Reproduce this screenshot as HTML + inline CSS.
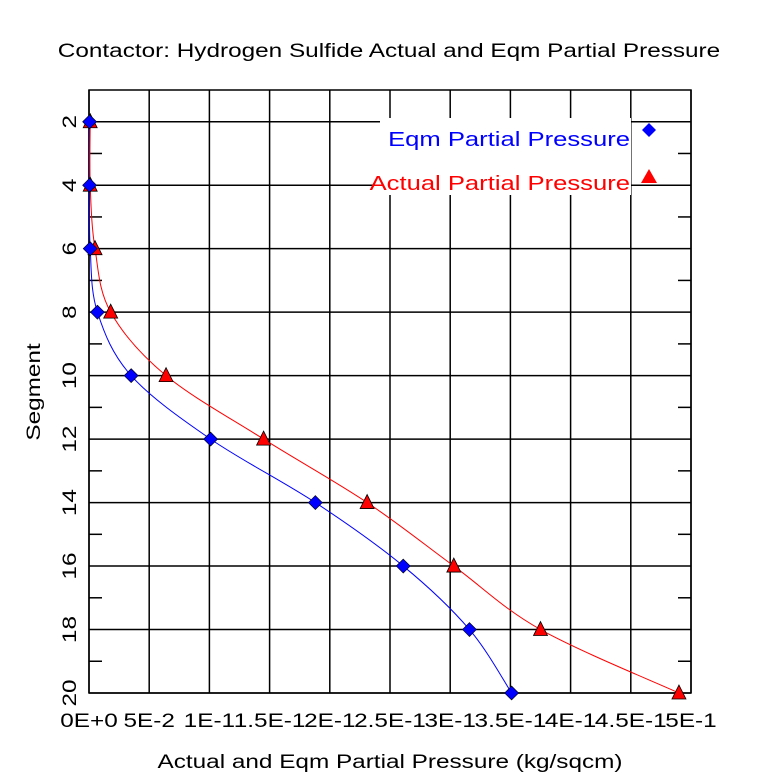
<!DOCTYPE html>
<html><head><meta charset="utf-8"><style>body{margin:0;background:#fff}svg{display:block;font-family:"Liberation Sans",sans-serif}</style></head>
<body>
<svg id="chart" width="781" height="782" viewBox="0 0 781 782" xmlns="http://www.w3.org/2000/svg">
<text class="wide" x="389" y="57" font-size="19" text-anchor="middle">Contactor: Hydrogen Sulfide Actual and Eqm Partial Pressure</text>
<g id="grid"></g>
<g id="series"></g>
<text class="wide" x="390" y="768" font-size="19" text-anchor="middle">Actual and Eqm Partial Pressure (kg/sqcm)</text>
<text class="wide" transform="translate(40,392) rotate(-90)" font-size="19" text-anchor="middle">Segment</text>
<g>
<rect x="380" y="118" width="251" height="77" fill="#fff"/>
<text class="wide" x="630" y="146" font-size="20" fill="#0000ff" text-anchor="end">Eqm Partial Pressure</text>
<path d="M649 123 L656 130 L649 137 L642 130 Z" fill="#0000ff"/>
<text class="wide" x="630" y="190" font-size="20" fill="#ff0000" text-anchor="end">Actual Partial Pressure</text>
<path d="M649 169 L657 183 L641 183 Z" fill="#ff0000"/>
</g>
</svg>
<script>
const segments=[2,4,6,8,10,12,14,16,18,20];
const eqmValues=[0.0005,0.0005,0.001,0.007,0.035,0.101,0.188,0.261,0.316,0.351];
const actualValues=[0.001,0.001,0.005,0.018,0.064,0.145,0.231,0.303,0.375,0.49];
const xTicks=[0,0.05,0.1,0.15,0.2,0.25,0.3,0.35,0.4,0.45,0.5];
const xTickLabels=["0E+0","5E-2","1E-1","1.5E-1","2E-1","2.5E-1","3E-1","3.5E-1","4E-1","4.5E-1","5E-1"];
const yTicks=[2,4,6,8,10,12,14,16,18,20];
const L=89,R=691,T=90,B=693,yMin=1,yMax=20,xMax=0.5;
const X=v=>L+(v/xMax)*(R-L);
const Y=s=>T+(s-yMin)/(yMax-yMin)*(B-T);
const NS="http://www.w3.org/2000/svg";
function mk(tag,attrs,parent){const e=document.createElementNS(NS,tag);for(const k in attrs)e.setAttribute(k,attrs[k]);parent.appendChild(e);return e;}
const g=document.getElementById('grid');
xTicks.forEach((v,i)=>{
 const l=mk('line',{x1:X(v),x2:X(v),y1:T,y2:B,stroke:'#000','stroke-width':1.5},g);
 
 
 const t=mk('text',{x:X(v),y:727,'font-size':19,'text-anchor':'middle','class':'wide'},g);
 t.textContent=xTickLabels[i];
 
 
});
yTicks.forEach(s=>{
 const l=mk('line',{x1:L,x2:R,y1:Y(s),y2:Y(s),stroke:'#000','stroke-width':1.5},g);
 
 
 const t=mk('text',{transform:`translate(76,${Y(s)}) rotate(-90)`,'font-size':19,'text-anchor':'middle','class':'wide'},g);
 t.textContent=s;
 
 
});
for(let s=3;s<=19;s+=2){
 const a=mk('line',{x1:L,x2:L+13,y1:Y(s),y2:Y(s),stroke:'#000','stroke-width':1.5},g);
 
 
 const b=mk('line',{x1:R-13,x2:R,y1:Y(s),y2:Y(s),stroke:'#000','stroke-width':1.5},g);
 
 
}
const frame=mk('rect',{x:L,y:T,width:R-L,height:B-T,fill:'none',stroke:'#000','stroke-width':1.5},g);


function smooth(pts){let d=`M${pts[0][0]} ${pts[0][1]}`;for(let i=0;i<pts.length-1;i++){const p0=pts[i-1]||pts[i],p1=pts[i],p2=pts[i+1],p3=pts[i+2]||p2;const c1=[p1[0]+(p2[0]-p0[0])/6,p1[1]+(p2[1]-p0[1])/6],c2=[p2[0]-(p3[0]-p1[0])/6,p2[1]-(p3[1]-p1[1])/6];d+=` C${c1[0]} ${c1[1]} ${c2[0]} ${c2[1]} ${p2[0]} ${p2[1]}`;}return d;}
const sg=document.getElementById('series');
const ep=segments.map((s,i)=>[X(eqmValues[i]),Y(s)]);
const ap=segments.map((s,i)=>[X(actualValues[i]),Y(s)]);
const el=mk('path',{d:smooth(ep),fill:'none',stroke:'#0000ff','stroke-width':1},sg);


const al=mk('path',{d:smooth(ap),fill:'none',stroke:'#ff0000','stroke-width':1},sg);


ap.forEach(([x,y])=>{
 const m=mk('path',{d:`M${x} ${y-8} L${x+7} ${y+6} L${x-7} ${y+6} Z`,fill:'#ff0000',stroke:'#000','stroke-width':0.8},sg);
 
 
});
ep.forEach(([x,y])=>{
 const m=mk('path',{d:`M${x} ${y-7} L${x+7} ${y} L${x} ${y+7} L${x-7} ${y} Z`,fill:'#0000ff',stroke:'#000','stroke-width':0.6},sg);
 
 
});
document.querySelectorAll('text.wide').forEach(t=>{
 const len=t.getComputedTextLength();
 if(len>0){t.setAttribute('textLength',(len*1.28).toFixed(1));t.setAttribute('lengthAdjust','spacingAndGlyphs');}
});
</script>
</body></html>
